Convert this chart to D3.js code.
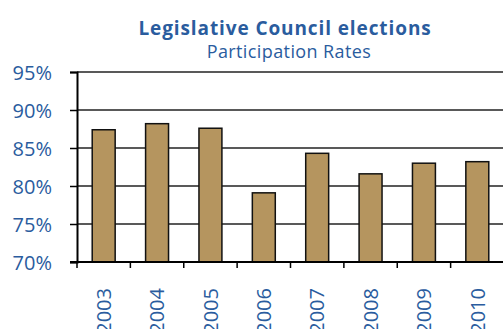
<!DOCTYPE html>
<html>
<head>
<meta charset="utf-8">
<script src="https://cdn.jsdelivr.net/npm/d3@7"></script>
<style>
  html, body { margin: 0; padding: 0; background: #fff; }
  svg { display: block; }
</style>
</head>
<body>
<svg id="chart" width="503" height="329"></svg>
<script>
// Legislative Council election turnout by year
const years = ["2003", "2004", "2005", "2006", "2007", "2008", "2009", "2010"];
const rates = [87.4, 88.2, 87.6, 79.1, 84.3, 81.6, 83.0, 83.2];
const yTicks = [70, 75, 80, 85, 90, 95];

const W = 503, H = 329;
const margin = { top: 72, right: -1, bottom: 67, left: 77 };
const blue = "#2a5c9e";
const font = "'Open Sans', sans-serif";

const svg = d3.select("#chart");

const x = d3.scaleBand()
  .domain(years)
  .range([margin.left, W - margin.right])
  .paddingInner(0.57)
  .paddingOuter(0.285);

const y = d3.scaleLinear()
  .domain([70, 95])
  .range([H - margin.bottom, margin.top]);

// Titles
svg.append("text")
  .attr("x", 285).attr("y", 35)
  .attr("text-anchor", "middle")
  .attr("font-family", font).attr("font-weight", 700).attr("font-size", 19)
  .attr("letter-spacing", 0.9)
  .attr("fill", blue)
  .text("Legislative Council elections");

svg.append("text")
  .attr("x", 289).attr("y", 58)
  .attr("text-anchor", "middle")
  .attr("font-family", font).attr("font-size", 18)
  .attr("letter-spacing", 0.4)
  .attr("fill", blue)
  .text("Participation Rates");

// Horizontal gridlines
svg.append("g")
  .selectAll("line")
  .data(yTicks.filter(t => t > 70))
  .join("line")
  .attr("x1", margin.left).attr("x2", W)
  .attr("y1", d => y(d)).attr("y2", d => y(d))
  .attr("stroke", "#222").attr("stroke-width", 1.5);

// Y axis
const yAxis = svg.append("g")
  .attr("transform", `translate(${margin.left},0)`)
  .call(d3.axisLeft(y).tickValues(yTicks).tickSize(7).tickFormat(d => d + "%"));
yAxis.select(".domain").attr("stroke", "#000").attr("stroke-width", 2);
yAxis.selectAll(".tick line").attr("stroke", "#000").attr("stroke-width", 1.5);
yAxis.selectAll(".tick text")
  .attr("x", -25)
  .attr("dy", "0.36em")
  .attr("font-family", font).attr("font-size", 20)
  .attr("fill", blue);

// Bars
svg.append("g")
  .selectAll("rect")
  .data(years.map((yr, i) => ({ yr, v: rates[i] })))
  .join("rect")
  .attr("x", d => x(d.yr))
  .attr("width", x.bandwidth())
  .attr("y", d => y(d.v))
  .attr("height", d => y(70) - y(d.v))
  .attr("fill", "#b5955f")
  .attr("stroke", "#111").attr("stroke-width", 1.5);

// X axis with ticks at category boundaries
const xb = d3.scaleLinear().domain([0, years.length]).range([margin.left, W - margin.right]);
const xAxis = svg.append("g")
  .attr("transform", `translate(0,${y(70)})`);
xAxis.append("line")
  .attr("x1", margin.left - 7).attr("x2", W)
  .attr("stroke", "#000").attr("stroke-width", 2);
xAxis.selectAll("line.tk")
  .data(d3.range(0, years.length))
  .join("line")
  .attr("class", "tk")
  .attr("x1", d => xb(d)).attr("x2", d => xb(d))
  .attr("y1", 0).attr("y2", 6)
  .attr("stroke", "#000").attr("stroke-width", 1.5);

xAxis.selectAll("text")
  .data(years)
  .join("text")
  .attr("transform", d => `translate(${x(d) + x.bandwidth() / 2},26) rotate(-90)`)
  .attr("text-anchor", "end")
  .attr("dy", "0.36em")
  .attr("font-family", font).attr("font-size", 20)
  .attr("fill", blue)
  .text(d => d);
</script>
</body>
</html>
